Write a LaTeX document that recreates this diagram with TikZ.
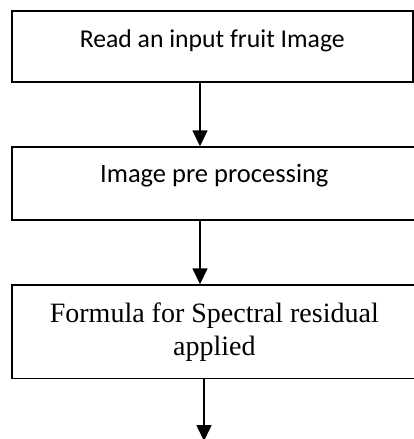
\documentclass[tikz,border=0pt]{standalone}
\usepackage{fontspec}
\setmainfont{Liberation Serif}
\newfontfamily\calibri{Carlito}
\usepackage{tikz}
\usetikzlibrary{arrows.meta,positioning}

\begin{document}
\begin{tikzpicture}[
  x=1pt, y=-1pt,
  box/.style={rectangle, draw=black, line width=1.6pt, fill=white,
              inner xsep=0pt, inner ysep=0pt, align=center, anchor=north west},
  sbox/.style={box, font=\calibri\fontsize{26.5}{31}\selectfont},
  fbox/.style={box, font=\fontsize{28}{33}\selectfont},
  arr/.style={-{Triangle[length=16pt,width=15pt]}, line width=1.6pt}
]
\useasboundingbox (0,0) rectangle (413,439);

%% Input
\node[sbox, font=\calibri\fontsize{25.7}{31}\selectfont, minimum width=401pt,
      text height=36.4pt, text depth=34.3pt]
  (read) at (11,10.3) {Read an input fruit Image};

%% Pre processing
\node[sbox, minimum width=405pt, text height=35.7pt, text depth=37pt]
  (prep) at (11,146.3) {Image pre processing};

%% Spectral residual
\node[fbox, minimum width=405pt, minimum height=93.4pt]
  (spec) at (11,284.3) {Formula for Spectral residual\\applied};

%% Arrows
\coordinate (out) at (204,441);
\draw[arr] (200,0 |- read.south) -- (200,0 |- prep.north);
\draw[arr] (200,0 |- prep.south) -- (200,0 |- spec.north);
\draw[arr] (204,0 |- spec.south) -- (out);

\end{tikzpicture}
\end{document}
